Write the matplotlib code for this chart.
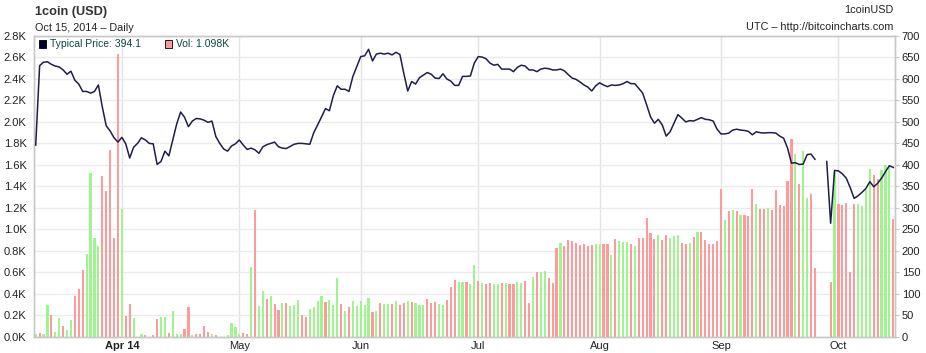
import matplotlib
matplotlib.use("Agg")
import matplotlib.pyplot as plt
import matplotlib.dates as mdates
import numpy as np
import pandas as pd

plt.rcParams['font.family'] = ['Liberation Sans', 'DejaVu Sans']

# daily data, Mar 10 2014 .. Oct 15 2014
start_date = '2014-03-10'
end_date = '2014-10-15'

# volume in thousands
volume_k = [
    0.025, 0.034, 0.025, 0.295, 0.20, 0.043, 0.174, 0.10, 0.062, 0.155,
    0.38, 0.444, 0.62, 0.77, 1.525, 0.92, 0.845, 1.497, 1.357, 1.74,
    0.92, 2.635, 1.19, 0.193, 0.304, 0.174, 0.0, 0.025, 0.015, 0.0,
    0.015, 0.165, 0.183, 0.183, 0.034, 0.24, 0.025, 0.025, 0.07, 0.276,
    0.015, 0.025, 0.025, 0.10, 0.043, 0.025, 0.015, 0.0, 0.0, 0.015,
    0.127, 0.09, 0.025, 0.034, 0.025, 0.65, 1.18, 0.286, 0.425, 0.35,
    0.38, 0.304, 0.25, 0.314, 0.314, 0.286, 0.295, 0.34, 0.20, 0.186,
    0.26, 0.276, 0.33, 0.38, 0.32, 0.34, 0.295, 0.547, 0.30, 0.24,
    0.276, 0.33, 0.29, 0.33, 0.295, 0.36, 0.23, 0.24, 0.31, 0.30,
    0.30, 0.30, 0.33, 0.295, 0.31, 0.33, 0.32, 0.31, 0.295, 0.295,
    0.35, 0.31, 0.32, 0.30, 0.295, 0.34, 0.46, 0.53, 0.51, 0.51,
    0.51, 0.49, 0.67, 0.52, 0.50, 0.49, 0.50, 0.49, 0.49, 0.50,
    0.50, 0.49, 0.49, 0.51, 0.50, 0.52, 0.31, 0.556, 0.60, 0.60,
    0.61, 0.547, 0.50, 0.83, 0.87, 0.84, 0.90, 0.89, 0.87, 0.855,
    0.86, 0.845, 0.855, 0.86, 0.86, 0.86, 0.86, 0.76, 0.91, 0.89,
    0.88, 0.88, 0.86, 0.845, 0.92, 0.92, 1.105, 0.966, 0.91, 0.947,
    0.90, 0.947, 0.92, 0.94, 0.947, 0.87, 0.86, 0.87, 0.93, 0.975,
    0.975, 0.90, 0.86, 0.86, 0.89, 1.376, 1.087, 1.17, 1.18, 1.17,
    1.13, 1.13, 1.12, 1.376, 1.236, 1.19, 1.19, 1.20, 1.18, 1.37,
    1.23, 1.215, 1.45, 1.84, 1.70, 1.42, 1.73, 1.29, 1.33, 0.64,
    0.0, 0.0, 0.0, 0.51, 1.53, 1.236, 1.228, 1.244, 0.604, 1.236,
    1.236, 1.216, 1.37, 1.564, 1.51, 1.47, 1.55, 1.60, 1.60, 1.098,
]

# 'g' = up day, 'r' = down day, ten days per chunk
volume_dir = "".join([
    "grggrggrgg", "rrrggggrrr", "rrgrrgggrg", "rrggrgggrr",
    "grrrrgrggg", "gggrrgrggr", "grrgrgggrr", "ggggrgggrg",
    "rgggggrgrg", "grgrrgrggg", "rrrggrrrgg", "rggrgrrggr",
    "grrggrrgrg", "grrrgrrrrr", "rrrggrrgrg", "ggrgrrrrrg",
    "rrgggrrgrg", "rrrrrrgrgr", "grrrgrrgrr", "rrrrgrggrr",
    "rrrrgrrrrr", "ggggrrgggr",
])

price = [
    446, 631, 639, 640, 634, 630, 628, 621, 611, 618,
    597, 588, 571, 571, 567, 571, 586, 535, 491, 479,
    463, 453, 464, 449, 416, 441, 450, 463, 458, 450,
    449, 401, 408, 432, 421, 458, 495, 523, 511, 489,
    502, 508, 507, 504, 499, 502, 466, 450, 437, 432,
    444, 449, 458, 446, 436, 439, 435, 427, 442, 447,
    450, 453, 442, 439, 438, 443, 448, 450, 450, 449,
    448, 475, 493, 512, 531, 526, 561, 584, 576, 576,
    571, 606, 629, 652, 654, 669, 642, 658, 660, 658,
    660, 656, 662, 657, 613, 572, 594, 588, 603, 609,
    615, 611, 602, 601, 612, 600, 595, 585, 585, 606,
    606, 607, 637, 652, 651, 647, 637, 632, 634, 623,
    623, 623, 617, 627, 632, 630, 621, 621, 617, 623,
    625, 624, 621, 621, 623, 619, 610, 602, 599, 593,
    586, 581, 572, 584, 591, 586, 582, 586, 585, 586,
    589, 594, 589, 589, 578, 567, 540, 512, 497, 506,
    493, 467, 477, 497, 517, 509, 500, 503, 502, 506,
    510, 506, 505, 502, 483, 472, 472, 474, 481, 483,
    481, 480, 478, 470, 477, 475, 474, 475, 475, 474,
    467, 462, 439, 404, 405, 401, 402, 424, 425, 413,
    None, None, 408, 264, 387, 386, 379, 369, 347, 322,
    328, 336, 345, 361, 349, 357, 369, 384, 398, 394.1,
]

month_ticks = ['2014-04-01', '2014-05-01', '2014-06-01', '2014-07-01',
               '2014-08-01', '2014-09-01', '2014-10-01']
month_labels = ['Apr 14', 'May', 'Jun', 'Jul', 'Aug', 'Sep', 'Oct']

dates = pd.date_range(start_date, end_date, freq='D')
x = mdates.date2num(dates)
vol = np.array(volume_k)
px = np.array([np.nan if p is None else p for p in price], dtype=float)

RED = '#ff9a9a'
GREEN = '#9ef58f'
LINE = '#1e1e4c'
GRID = '#ebebeb'
AXIS = '#c8c8c8'
TXT = '#222222'

fig = plt.figure(figsize=(9.26, 3.53), dpi=100)
ax = fig.add_axes([0.0362, 0.0462, 0.9300, 0.8518])
ax2 = ax.twinx()

colors = [GREEN if c == 'g' else RED for c in volume_dir]
ax.bar(x, vol, width=0.55, color=colors, linewidth=0, zorder=2)

ax.set_ylim(0, 2.8)
ax.set_yticks(np.arange(0, 2.81, 0.2))
ax.set_yticklabels([f"{v:.1f}K" for v in np.arange(0, 2.81, 0.2)])
ax2.set_ylim(0, 700)
ax2.set_yticks(np.arange(0, 701, 50))

ax2.plot(x, px, color=LINE, lw=1.1, zorder=3)

ax.set_xlim(x[0] - 0.56, x[-1] + 0.36)
tick_x = mdates.date2num(pd.to_datetime(month_ticks))
ax.set_xticks(tick_x)
ax.set_xticklabels(month_labels)
ax.get_xticklabels()[0].set_fontweight('bold')

ax.grid(True, axis='y', color=GRID, lw=1.0, zorder=0)
ax.grid(True, axis='x', color='#e3e3e3', lw=1.0, zorder=0)
ax.set_axisbelow(True)

for a in (ax, ax2):
    for s in a.spines.values():
        s.set_color(AXIS)
        s.set_linewidth(1.0)
    a.tick_params(labelsize=8, colors=TXT, length=3, width=0.8)
ax.tick_params(axis='y', length=0, pad=5, color=AXIS)
ax.tick_params(axis='x', length=0, pad=3)
ax2.tick_params(axis='y', length=3, pad=2, color=AXIS)

# header texts
fig.text(0.0378, 0.966, "1coin (USD)", fontsize=9.2, fontweight='bold',
         color='#333333', va='center', ha='left')
fig.text(0.0378, 0.920, "Oct 15, 2014 \u2013 Daily", fontsize=7.8,
         color=TXT, va='center', ha='left')
fig.text(0.965, 0.972, "1coinUSD", fontsize=7.8, color=TXT,
         va='center', ha='right')
fig.text(0.965, 0.923, "UTC \u2013 http://bitcoincharts.com", fontsize=7.8,
         color=TXT, va='center', ha='right')

# legend
leg_y = 0.875
fig.patches.append(plt.Rectangle((0.0421, leg_y - 0.012), 0.0075, 0.025,
                                 transform=fig.transFigure, facecolor='#000033',
                                 edgecolor='#000000', lw=0.6))
fig.text(0.0545, leg_y, "Typical Price: 394.1", fontsize=7.5, color='#0b4545',
         va='center', ha='left')
fig.patches.append(plt.Rectangle((0.1786, leg_y - 0.012), 0.0075, 0.025,
                                 transform=fig.transFigure, facecolor='#ff9999',
                                 edgecolor='#000000', lw=0.6))
fig.text(0.1900, leg_y, "Vol: 1.098K", fontsize=7.5, color='#0b4545',
         va='center', ha='left')

fig.savefig('out.png', dpi=100)
